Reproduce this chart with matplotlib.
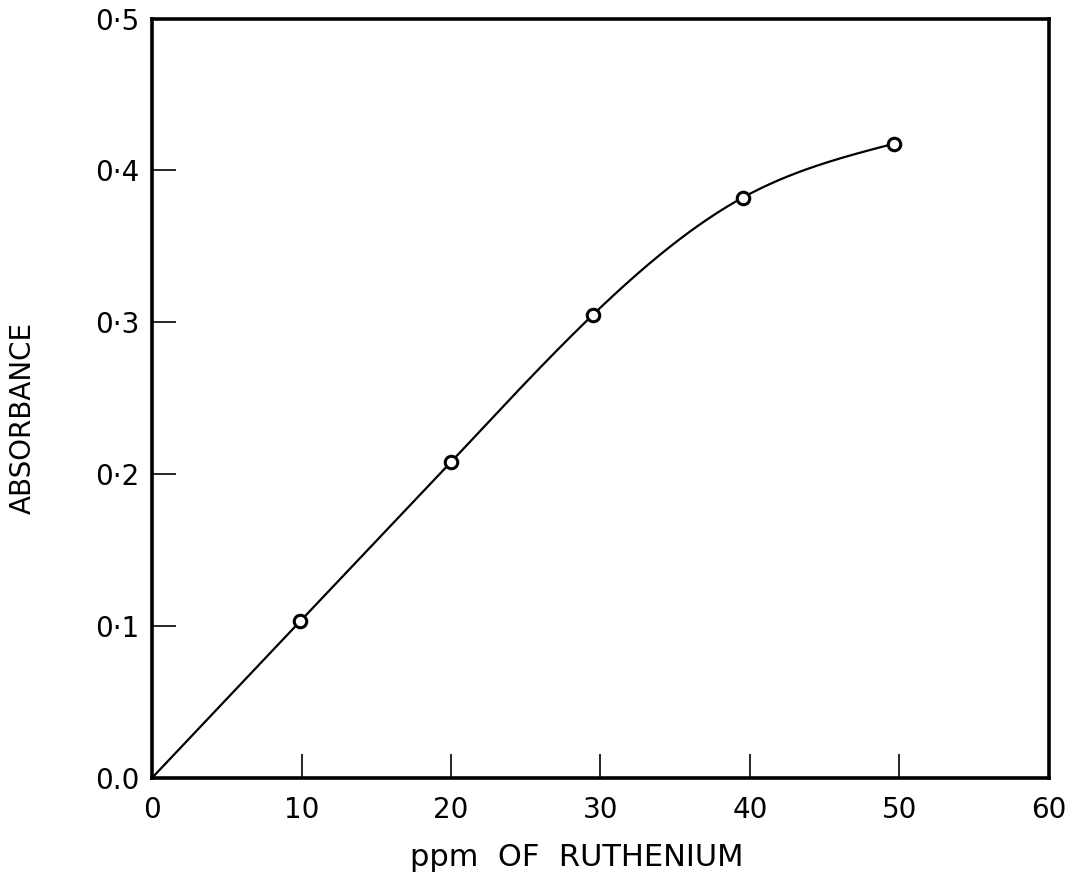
import numpy as np
import matplotlib
matplotlib.use("Agg")
from matplotlib import pyplot as plt

# calibration data
ppm = [0, 9.9, 20.0, 29.5, 39.5, 49.6]
absorbance = [0.0, 0.103, 0.208, 0.305, 0.382, 0.4175]

x_ticks = [0, 10, 20, 30, 40, 50, 60]
y_ticks = [0.0, 0.1, 0.2, 0.3, 0.4, 0.5]
y_tick_labels = ["0.0", "0\u00b71", "0\u00b72", "0\u00b73", "0\u00b74", "0\u00b75"]


def natural_spline(x, y, xs):
    # smooth curve through the measured points (natural cubic spline)
    x = np.asarray(x, float)
    y = np.asarray(y, float)
    n = len(x)
    h = np.diff(x)
    A = np.zeros((n, n))
    b = np.zeros(n)
    A[0, 0] = 1
    A[-1, -1] = 1
    for i in range(1, n - 1):
        A[i, i - 1] = h[i - 1]
        A[i, i] = 2 * (h[i - 1] + h[i])
        A[i, i + 1] = h[i]
        b[i] = 3 * ((y[i + 1] - y[i]) / h[i] - (y[i] - y[i - 1]) / h[i - 1])
    c = np.linalg.solve(A, b)
    out = np.empty_like(xs)
    for k, xv in enumerate(xs):
        i = min(max(np.searchsorted(x, xv) - 1, 0), n - 2)
        dx = xv - x[i]
        bi = (y[i + 1] - y[i]) / h[i] - h[i] * (2 * c[i] + c[i + 1]) / 3
        di = (c[i + 1] - c[i]) / (3 * h[i])
        out[k] = y[i] + bi * dx + c[i] * dx ** 2 + di * dx ** 3
    return out


fig = plt.figure(figsize=(10.75, 8.81), dpi=100)
ax = fig.add_axes([0.1414, 0.117, 0.8344, 0.862])

xs = np.linspace(ppm[0], ppm[-1], 400)
ax.plot(xs, natural_spline(ppm, absorbance, xs), color="black", linewidth=1.6)
ax.plot(ppm[1:], absorbance[1:], "o", markersize=9, markerfacecolor="white",
        markeredgecolor="black", markeredgewidth=2.2)

ax.set_xlim(0, 60)
ax.set_ylim(0, 0.5)
ax.set_xticks(x_ticks)
ax.set_xticklabels([str(t) for t in x_ticks])
ax.set_yticks(y_ticks)
ax.set_yticklabels(y_tick_labels)

for s in ax.spines.values():
    s.set_linewidth(2.6)

ax.tick_params(axis="x", direction="in", length=17, width=1.2, pad=13, labelsize=20)
ax.tick_params(axis="y", direction="in", length=17, width=1.2, pad=9, labelsize=20)

ax.set_xlabel("ppm  OF  RUTHENIUM", fontsize=22, va="center")
ax.set_ylabel("ABSORBANCE", fontsize=20, va="center")
ax.xaxis.set_label_coords(0.473, -0.105)
ax.yaxis.set_label_coords(-0.144, 0.474)

plt.savefig("out.png", dpi=100)
